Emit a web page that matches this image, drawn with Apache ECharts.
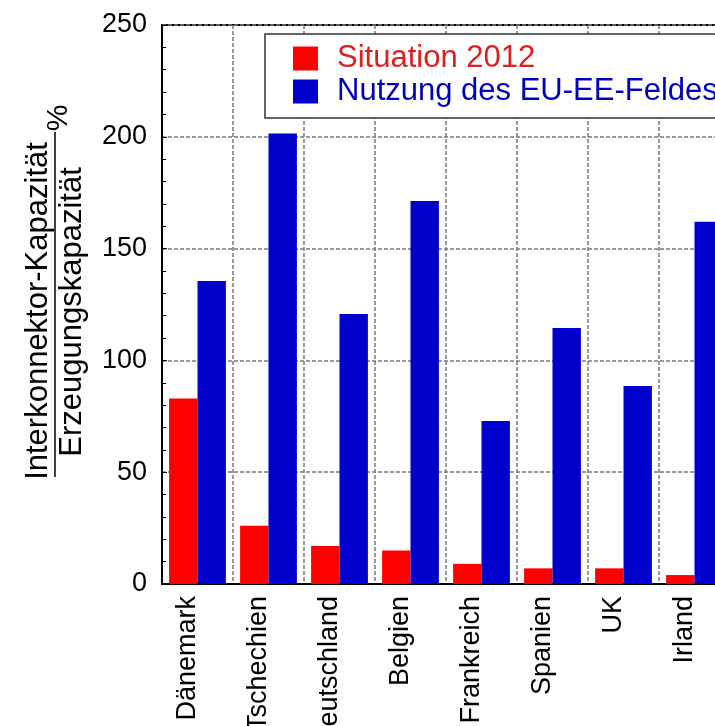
<!DOCTYPE html>
<html>
<head>
<meta charset="utf-8">
<script src="https://cdn.jsdelivr.net/npm/echarts@6/dist/echarts.min.js"></script>
<style>
  html, body { margin: 0; padding: 0; background: #fff; }
  #chart { width: 715px; height: 726px; }
</style>
</head>
<body>
<div id="chart"></div>
<script>
// Interconnector capacity relative to generation capacity, per country (%)
const countries = ['Dänemark', 'Tschechien', 'Deutschland', 'Belgien', 'Frankreich', 'Spanien', 'UK', 'Irland'];
const situation2012 = [83, 26, 17, 15, 9, 7, 7, 4];
const euEeFeld = [135.5, 201.5, 120.7, 171.3, 72.9, 114.5, 88.6, 162];
const seriesNames = ['Situation 2012', 'Nutzung des EU-EE-Feldes'];
const yTicks = { min: 0, max: 250, interval: 50 };

const FONT = '"Liberation Sans", Arial, sans-serif';
const RED = '#ff0000';
const BLUE = '#0000cc';
const GRID_LINE = { color: '#7a7a7a', width: 1.5, type: [4, 2] };

const chart = echarts.init(document.getElementById('chart'), null, { renderer: 'canvas' });

chart.setOption({
  backgroundColor: '#fff',
  animation: false,
  textStyle: { fontFamily: FONT },
  grid: {
    left: 162, top: 25, bottom: 142, width: 568,
    containLabel: false, outerBoundsMode: 'none',
    show: true, borderColor: '#000', borderWidth: 2, backgroundColor: 'transparent'
  },
  legend: {
    orient: 'vertical',
    left: 265, top: 34,
    padding: [8, 24, 10, 28],
    itemWidth: 25, itemHeight: 24, itemGap: 0,
    icon: 'rect',
    backgroundColor: '#fff',
    borderColor: '#333', borderWidth: 1.5, borderRadius: 0,
    textStyle: { fontSize: 31, fontFamily: FONT, lineHeight: 33, padding: [0, 0, 0, 14] },
    data: [
      { name: seriesNames[0], textStyle: { color: '#e01e1e' } },
      { name: seriesNames[1], textStyle: { color: '#0000c0' } }
    ]
  },
  xAxis: {
    type: 'category',
    data: countries,
    axisLine: { lineStyle: { color: '#000', width: 2 } },
    axisTick: { show: false },
    splitLine: { show: true, interval: 0, lineStyle: GRID_LINE },
    axisLabel: {
      interval: 0, rotate: 90, margin: 12,
      fontSize: 27, color: '#000', fontFamily: FONT,
      verticalAlign: 'bottom', lineHeight: 20
    }
  },
  yAxis: {
    type: 'value',
    min: yTicks.min, max: yTicks.max, interval: yTicks.interval,
    axisLine: { show: true, lineStyle: { color: '#000', width: 2 } },
    axisTick: { show: true, inside: true, length: 5, lineStyle: { color: '#000', width: 1 } },
    minorTick: { show: true, splitNumber: 5, length: 4, lineStyle: { color: '#000', width: 1 } },
    splitLine: { show: true, lineStyle: GRID_LINE },
    axisLabel: { fontSize: 27, color: '#000', margin: 15, fontFamily: FONT }
  },
  series: [
    {
      name: seriesNames[0], type: 'bar', data: situation2012,
      barGap: '0%', barCategoryGap: '20%',
      itemStyle: { color: RED }
    },
    {
      name: seriesNames[1], type: 'bar', data: euEeFeld,
      barGap: '0%', barCategoryGap: '20%',
      itemStyle: { color: BLUE }
    }
  ],
  graphic: [
    {
      type: 'text', x: 38, y: 311, rotation: Math.PI / 2,
      style: { text: 'Interkonnektor-Kapazität', font: '31px ' + FONT, fill: '#000',
               align: 'center', verticalAlign: 'middle' }
    },
    {
      type: 'text', x: 59, y: 118, rotation: Math.PI / 2,
      style: { text: '%', font: '30px ' + FONT, fill: '#000',
               align: 'center', verticalAlign: 'middle' }
    },
    {
      type: 'line', shape: { x1: 55, y1: 132, x2: 55, y2: 477 },
      style: { stroke: '#000', lineWidth: 1.5 }
    },
    {
      type: 'text', x: 72, y: 312, rotation: Math.PI / 2,
      style: { text: 'Erzeugungskapazität', font: '31px ' + FONT, fill: '#000',
               align: 'center', verticalAlign: 'middle' }
    }
  ]
});
</script>
</body>
</html>
